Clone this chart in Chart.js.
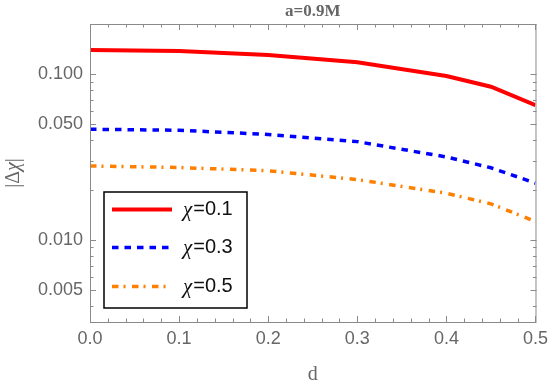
<!DOCTYPE html>
<html>
<head>
<meta charset="utf-8">
<script src="https://cdn.jsdelivr.net/npm/chart.js@4.4.0/dist/chart.umd.min.js"></script>
<style>
  html, body { margin: 0; padding: 0; background: #fff; }
</style>
</head>
<body>
<canvas id="myChart" width="554" height="388"></canvas>
<script>
const dValues = [0, 0.1, 0.2, 0.3, 0.4, 0.45, 0.5];
const chi01 = [0.1395, 0.1376, 0.130, 0.1176, 0.0972, 0.0837, 0.0648];
const chi03 = [0.0464, 0.0458, 0.0432, 0.0391, 0.0316, 0.0272, 0.0220];
const chi05 = [0.0279, 0.0273, 0.0261, 0.0231, 0.0191, 0.0165, 0.0129];
const chiLabels = ["0.1", "0.3", "0.5"];
const xTickValues = [0, 0.1, 0.2, 0.3, 0.4, 0.5];
const yTickValues = [0.005, 0.01, 0.05, 0.1];
const titleText = "a=0.9M";
const xTitle = "d";

const gray = '#666';

// frame, inward ticks on all sides, title, y title and the legend box
const decorations = {
  id: 'decorations',
  afterDraw(chart) {
    const ctx = chart.ctx;
    const area = chart.chartArea;
    const xs = chart.scales.x;
    const ys = chart.scales.y;
    ctx.save();

    ctx.strokeStyle = '#8a8a8a';
    ctx.lineWidth = 1;
    ctx.setLineDash([]);
    ctx.strokeRect(area.left + 0.5, area.top + 0.5, area.right - area.left, area.bottom - area.top);

    const tick = (x1, y1, x2, y2) => {
      ctx.beginPath();
      ctx.moveTo(x1, y1);
      ctx.lineTo(x2, y2);
      ctx.stroke();
    };

    // x ticks
    for (let k = 0; k <= 25; k++) {
      const v = k * 0.02;
      const px = Math.round(xs.getPixelForValue(v)) + 0.5;
      const len = k % 5 === 0 ? 6 : 3.5;
      tick(px, area.bottom, px, area.bottom - len);
      tick(px, area.top, px, area.top + len);
    }

    // y ticks
    const minor = [];
    [0.001, 0.01, 0.1].forEach(dec => {
      for (let m = 1; m <= 9; m++) minor.push(m * dec);
    });
    minor.forEach(v => {
      if (v < ys.min || v > ys.max) return;
      const major = yTickValues.some(t => Math.abs(t - v) < 1e-9);
      const py = Math.round(ys.getPixelForValue(v)) + 0.5;
      const len = major ? 6 : 3.5;
      tick(area.left, py, area.left + len, py);
      tick(area.right + 1, py, area.right + 1 - len, py);
    });

    // title
    ctx.fillStyle = gray;
    ctx.font = 'bold 17px "Liberation Serif"';
    ctx.textAlign = 'center';
    ctx.textBaseline = 'middle';
    ctx.fillText(titleText, (area.left + area.right) / 2, 12);

    // y title |Δχ|
    ctx.save();
    ctx.translate(14, (area.top + area.bottom) / 2);
    ctx.rotate(-Math.PI / 2);
    const parts = [
      ['|Δ', '20px "Liberation Serif"'],
      ['χ', 'italic 20px "Liberation Serif"'],
      ['|', '20px "Liberation Serif"']
    ];
    let total = 0;
    parts.forEach(p => { ctx.font = p[1]; total += ctx.measureText(p[0]).width; });
    let cx = -total / 2;
    ctx.textAlign = 'left';
    parts.forEach(p => {
      ctx.font = p[1];
      ctx.fillText(p[0], cx, 0);
      cx += ctx.measureText(p[0]).width;
    });
    ctx.restore();

    // legend
    const box = { left: 104, top: 192, width: 143, height: 116 };
    ctx.fillStyle = '#fff';
    ctx.fillRect(box.left, box.top, box.width, box.height);
    ctx.strokeStyle = '#000';
    ctx.lineWidth = 1.5;
    ctx.strokeRect(box.left, box.top, box.width, box.height);

    const rows = [209.5, 247.5, 286.5];
    chart.data.datasets.forEach((ds, i) => {
      const y = rows[i];
      ctx.strokeStyle = ds.borderColor;
      ctx.lineWidth = ds.borderWidth;
      ctx.setLineDash(ds.borderDash || []);
      tick(112, y, 172, y);
      ctx.setLineDash([]);
      ctx.fillStyle = '#111';
      ctx.textAlign = 'left';
      ctx.textBaseline = 'middle';
      ctx.font = 'italic 21px "Liberation Serif"';
      ctx.fillText('χ', 183, y + 1);
      const w = ctx.measureText('χ').width;
      ctx.font = '20px "Liberation Sans"';
      ctx.fillText('=' + chiLabels[i], 183 + w + 1, y);
    });

    ctx.restore();
  }
};

const ctx = document.getElementById('myChart').getContext('2d');
const myChart = new Chart(ctx, {
  type: 'line',
  data: {
    datasets: [
      {
        label: 'χ=' + chiLabels[0],
        data: dValues.map((d, i) => ({ x: d, y: chi01[i] })),
        borderColor: 'rgb(255, 0, 0)',
        borderWidth: 4
      },
      {
        label: 'χ=' + chiLabels[1],
        data: dValues.map((d, i) => ({ x: d, y: chi03[i] })),
        borderColor: 'rgb(0, 0, 255)',
        borderWidth: 3.5,
        borderDash: [6.5, 6]
      },
      {
        label: 'χ=' + chiLabels[2],
        data: dValues.map((d, i) => ({ x: d, y: chi05[i] })),
        borderColor: 'rgb(255, 128, 0)',
        borderWidth: 3.5,
        borderDash: [6.5, 5, 2, 6.5]
      }
    ]
  },
  options: {
    responsive: false,
    animation: false,
    elements: {
      point: { radius: 0 },
      line: { tension: 0, fill: false, borderCapStyle: 'butt' }
    },
    layout: { padding: { top: 24, right: 16, left: 0, bottom: 0 } },
    plugins: {
      legend: { display: false },
      title: { display: false },
      tooltip: { enabled: false }
    },
    scales: {
      x: {
        type: 'linear',
        min: 0,
        max: 0.5,
        grid: { display: false, drawTicks: false },
        border: { display: false },
        afterBuildTicks: s => { s.ticks = xTickValues.map(v => ({ value: v })); },
        afterFit: s => { s.height = 66; },
        ticks: {
          padding: 6,
          color: gray,
          maxRotation: 0,
          autoSkip: false,
          font: { family: 'Liberation Sans', size: 18 },
          callback: v => Number(v).toFixed(1)
        },
        title: {
          display: true,
          text: xTitle,
          color: gray,
          font: { family: 'Liberation Serif', size: 20 },
          padding: { top: 0, bottom: 1 }
        }
      },
      y: {
        type: 'logarithmic',
        min: 0.0032,
        max: 0.2,
        grid: { display: false, drawTicks: false },
        border: { display: false },
        afterBuildTicks: s => { s.ticks = yTickValues.map(v => ({ value: v })); },
        afterFit: s => { s.width = 90; },
        ticks: {
          padding: 7,
          color: gray,
          font: { family: 'Liberation Sans', size: 18 },
          callback: v => Number(v).toFixed(3)
        }
      }
    }
  },
  plugins: [decorations]
});
</script>
</body>
</html>
